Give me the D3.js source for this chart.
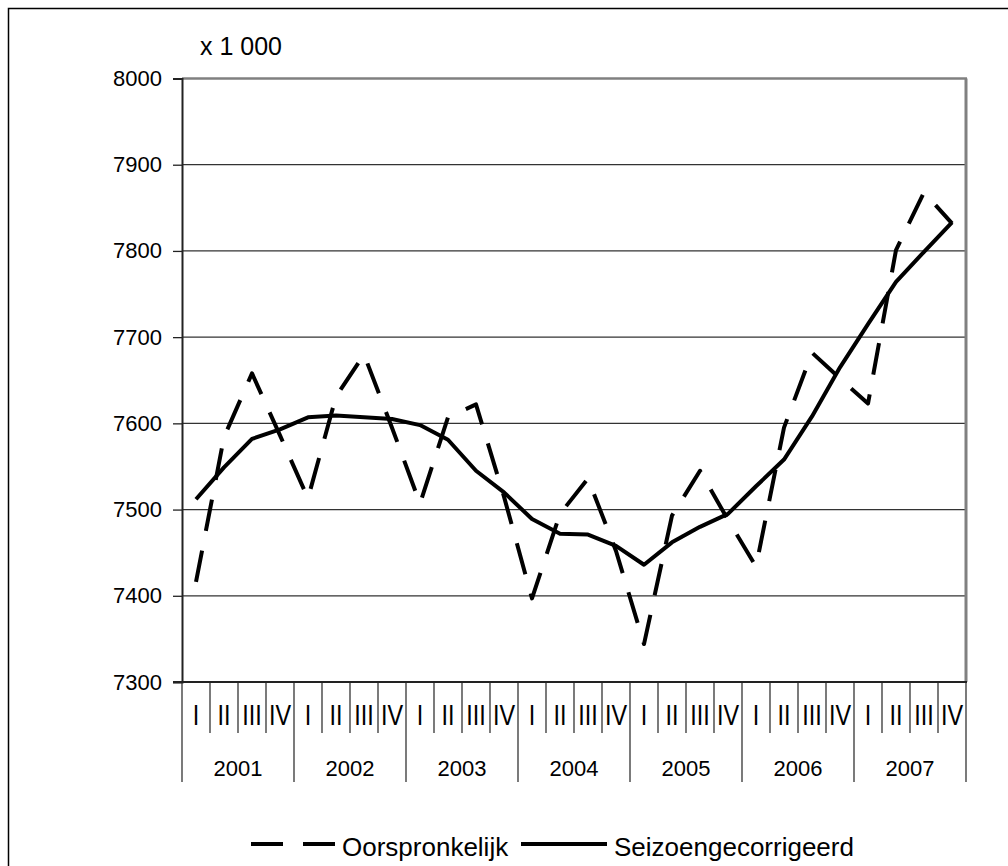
<!DOCTYPE html>
<html>
<head>
<meta charset="utf-8">
<script src="https://cdn.jsdelivr.net/npm/d3@7"></script>
<style>
  body { margin: 0; background: #fff; }
  svg { display: block; font-family: "Liberation Sans", Arial, sans-serif; }
</style>
</head>
<body>
<div id="chart"></div>
<script>
// Data (x 1 000)
const years = ["2001", "2002", "2003", "2004", "2005", "2006", "2007"];
const quarters = ["I", "II", "III", "IV"];
const yTicks = [7300, 7400, 7500, 7600, 7700, 7800, 7900, 8000];

const original = [
  7416, 7584, 7658, 7586,
  7513, 7631, 7680, 7595,
  7507, 7607, 7622, 7515,
  7397, 7495, 7536, 7452,
  7344, 7493, 7545, 7488,
  7434, 7595, 7682, 7652,
  7623, 7801, 7868, 7832
];
const adjusted = [
  7512, 7549, 7582, 7593,
  7607, 7609, 7607, 7605,
  7598, 7581, 7545, 7520,
  7489, 7472, 7471, 7458,
  7436, 7462, 7480, 7495,
  7527, 7558, 7608, 7665,
  7715, 7764, 7799, 7833
];

const W = 1008, H = 866;
const plot = { left: 182, right: 966, top: 78.5, bottom: 682 };

const keys = [];
years.forEach(y => quarters.forEach(q => keys.push(y + "-" + q)));

const svg = d3.select("#chart")
  .append("svg")
  .attr("width", W)
  .attr("height", H);

// outer frame (runs off the right and bottom edge)
svg.append("rect")
  .attr("x", 8.5).attr("y", 8.5)
  .attr("width", 1100).attr("height", 1000)
  .attr("fill", "#fff")
  .attr("stroke", "#000")
  .attr("stroke-width", 1.5);

const x = d3.scaleBand()
  .domain(keys)
  .range([plot.left, plot.right])
  .padding(0);

const y = d3.scaleLinear()
  .domain([7300, 8000])
  .range([plot.bottom, plot.top]);

const cx = i => x(keys[i]) + x.bandwidth() / 2;

// gridlines
svg.append("g")
  .selectAll("line")
  .data(yTicks.filter(t => t > 7300 && t < 8000))
  .enter()
  .append("line")
  .attr("x1", plot.left).attr("x2", plot.right)
  .attr("y1", d => y(d)).attr("y2", d => y(d))
  .attr("stroke", "#333")
  .attr("stroke-width", 1.2);

// top and right border of plot area (grey)
svg.append("line")
  .attr("x1", plot.left).attr("x2", plot.right + 1)
  .attr("y1", y(8000)).attr("y2", y(8000))
  .attr("stroke", "#808080").attr("stroke-width", 2.5);
svg.append("line")
  .attr("x1", plot.right).attr("x2", plot.right)
  .attr("y1", y(8000)).attr("y2", plot.bottom)
  .attr("stroke", "#808080").attr("stroke-width", 3);

// y axis
const yAxis = d3.axisLeft(y)
  .tickValues(yTicks)
  .tickSize(9)
  .tickPadding(11)
  .tickFormat(d3.format("d"));

const gy = svg.append("g")
  .attr("transform", `translate(${plot.left}, 0)`)
  .call(yAxis);
gy.select(".domain").attr("stroke", "#222").attr("stroke-width", 2);
gy.selectAll(".tick line").attr("stroke", "#222").attr("stroke-width", 1.3);
gy.selectAll(".tick text")
  .attr("font-size", 22)
  .attr("fill", "#000")
  .attr("font-family", "Liberation Sans, Arial, sans-serif");

// x axis: quarter separators and year separators
svg.append("g")
  .selectAll("line")
  .data(d3.range(keys.length + 1))
  .enter()
  .append("line")
  .attr("x1", i => plot.left + i * x.bandwidth())
  .attr("x2", i => plot.left + i * x.bandwidth())
  .attr("y1", plot.bottom)
  .attr("y2", i => i % 4 === 0 ? 782 : 733)
  .attr("stroke", "#333")
  .attr("stroke-width", 1.3);

svg.append("line")
  .attr("x1", plot.left - 9).attr("x2", plot.right + 1)
  .attr("y1", plot.bottom).attr("y2", plot.bottom)
  .attr("stroke", "#222").attr("stroke-width", 2);

// quarter labels (narrow, tall)
svg.append("g")
  .selectAll("text")
  .data(keys)
  .enter()
  .append("text")
  .attr("transform", (d, i) => `translate(${cx(i)}, 725) scale(0.78, 1)`)
  .attr("text-anchor", "middle")
  .attr("font-size", 30)
  .text(d => d.split("-")[1]);

// year labels
svg.append("g")
  .selectAll("text")
  .data(years)
  .enter()
  .append("text")
  .attr("x", (d, i) => plot.left + (i * 4 + 2) * x.bandwidth())
  .attr("y", 776)
  .attr("text-anchor", "middle")
  .attr("font-size", 22)
  .text(d => d);

// unit label
svg.append("text")
  .attr("x", 200).attr("y", 55)
  .attr("font-size", 25)
  .text("x 1 000");

// series lines
const line = d3.line()
  .x((d, i) => cx(i))
  .y(d => y(d));

svg.append("path")
  .datum(original)
  .attr("d", line)
  .attr("fill", "none")
  .attr("stroke", "#000")
  .attr("stroke-width", 4)
  .attr("stroke-dasharray", "32,20")
  .attr("stroke-linejoin", "round");

svg.append("path")
  .datum(adjusted)
  .attr("d", line)
  .attr("fill", "none")
  .attr("stroke", "#000")
  .attr("stroke-width", 4)
  .attr("stroke-linejoin", "round");

// legend
const legend = svg.append("g");
legend.append("line")
  .attr("x1", 251).attr("x2", 335)
  .attr("y1", 844).attr("y2", 844)
  .attr("stroke", "#000").attr("stroke-width", 4)
  .attr("stroke-dasharray", "32,20");
legend.append("text")
  .attr("x", 342).attr("y", 856)
  .attr("font-size", 26)
  .text("Oorspronkelijk");
legend.append("line")
  .attr("x1", 521).attr("x2", 607)
  .attr("y1", 844).attr("y2", 844)
  .attr("stroke", "#000").attr("stroke-width", 4);
legend.append("text")
  .attr("x", 614).attr("y", 856)
  .attr("font-size", 26)
  .text("Seizoengecorrigeerd");
</script>
</body>
</html>
